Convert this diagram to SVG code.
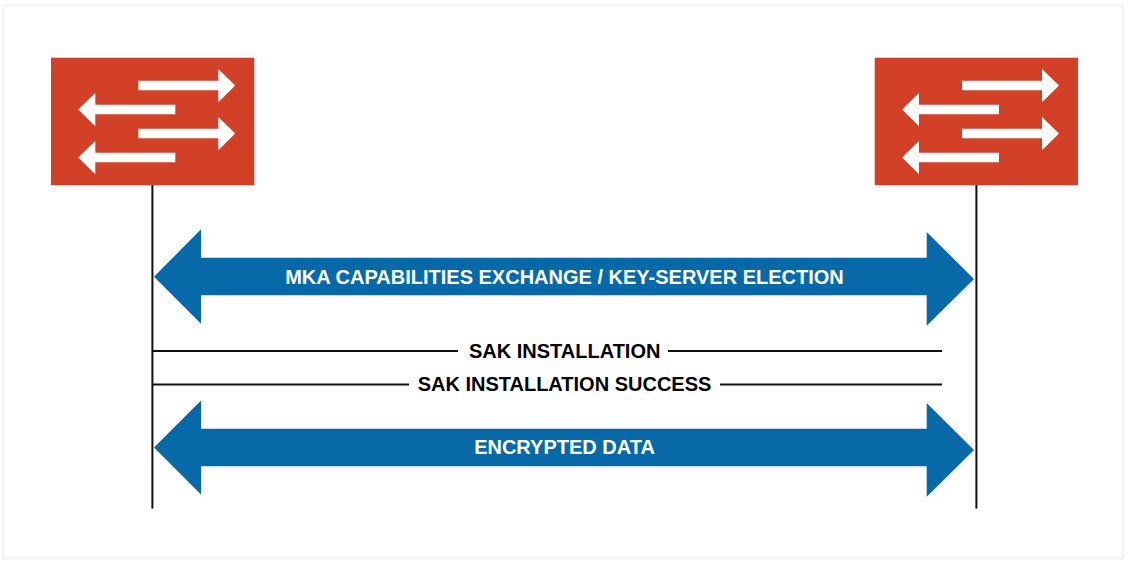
<svg xmlns="http://www.w3.org/2000/svg" width="1140" height="567" viewBox="0 0 1140 567">
<style>
.frame{fill:#fff;stroke:#f5f5f5;stroke-width:3}
.sw{fill:#d24027}
.ar{fill:#fff}
.big{fill:#0869a9}
.ln{stroke:#111;stroke-width:2;fill:none}
text{font-family:"Liberation Sans",Arial,sans-serif;font-weight:700;font-size:20px;text-anchor:middle}
.w{fill:#fff}
.k{fill:#000}
</style>
<defs>
<g id="switch">
<rect class="sw" x="51" y="57.7" width="203.3" height="127.5"/>
<path class="ar" d="M138.3 80.7H218.3V69L235.3 85.5L218.3 102.3V90.3H138.3Z"/>
<path class="ar" d="M175.3 104.7H95.3V93L78.3 109.5L95.3 126.3V114.3H175.3Z"/>
<path class="ar" d="M138.3 128.7H218.3V117L235.3 133.5L218.3 150.3V138.3H138.3Z"/>
<path class="ar" d="M175.3 152.7H95.3V141L78.3 157.5L95.3 174.3V162.3H175.3Z"/>
</g>
</defs>
<rect class="frame" x="3" y="5.5" width="1120" height="553"/>
<g id="connectors">
<path class="ln" d="M152.4 185V508.5"/>
<path class="ln" d="M976.4 185V508.5"/>
<path class="ln" d="M152.4 351H458M668 351H942"/>
<path class="ln" d="M152.4 384.5H409M720 384.5H942"/>
</g>
<g id="switch-left"><use href="#switch"/></g>
<g id="switch-right"><use href="#switch" x="823.7"/></g>
<g id="mka-exchange">
<path class="big" d="M154 276.7L201 229.3V257.7H926.7V232L974 279L926.7 325.7V295.3H201V323.7Z"/>
<text class="w" x="564.5" y="283.5">MKA CAPABILITIES EXCHANGE / KEY-SERVER ELECTION</text>
</g>
<g id="sak-installation"><text class="k" x="564.7" y="357.5">SAK INSTALLATION</text></g>
<g id="sak-success"><text class="k" x="564.5" y="390.5">SAK INSTALLATION SUCCESS</text></g>
<g id="encrypted-data">
<path class="big" d="M154 447.5L201 400.5V428.7H926.7V403L974 450L926.7 496.7V466.3H201V494.5Z"/>
<text class="w" x="564.5" y="454">ENCRYPTED DATA</text>
</g>
</svg>
